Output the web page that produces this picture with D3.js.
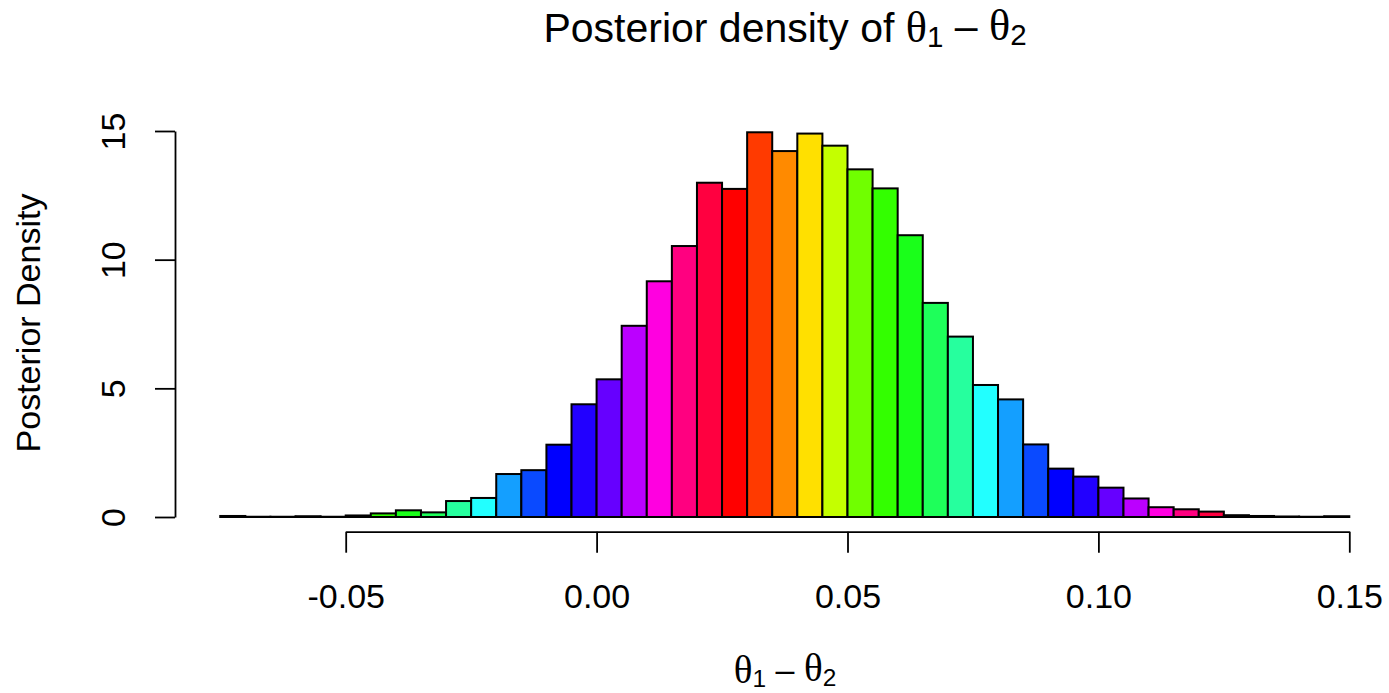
<!DOCTYPE html>
<html>
<head>
<meta charset="utf-8">
<script src="https://cdn.jsdelivr.net/npm/d3@7"></script>
<style>
  body { margin: 0; background: #fff; }
  svg { display: block; }
  text { font-family: "Liberation Sans", Arial, Helvetica, sans-serif; fill: #000; }
</style>
</head>
<body>
<div id="chart"></div>
<script>
// Histogram bins (left edges), width 0.005
const binStart = -0.075;
const binWidth = 0.005;
// Posterior density per bin
const density = [
  0.04, 0.01, 0.01, 0.03, 0.01, 0.06, 0.14, 0.26, 0.18, 0.62,
  0.74, 1.67, 1.82, 2.81, 4.38, 5.35, 7.43, 9.16, 10.53, 12.99,
  12.75, 14.95, 14.22, 14.90, 14.43, 13.51, 12.77, 10.95, 8.32, 7.01,
  5.13, 4.57, 2.82, 1.88, 1.57, 1.14, 0.72, 0.38, 0.30, 0.21,
  0.07, 0.04, 0.02, 0.01, 0.03
];
// 20-colour rainbow, recycled across the bins
const palette = [
  "#FF0000", "#FF3A00", "#FF8A00", "#FFE000", "#C4FF00",
  "#70FF00", "#33FF00", "#1AFF1A", "#1EFF5A", "#26FF9E",
  "#22FFFF", "#149FFF", "#0A4AFF", "#0000FF", "#2200FF",
  "#6600FF", "#BB00FF", "#FF00E0", "#FF0080", "#FF0040"
];
const xTicks = [-0.05, 0, 0.05, 0.10, 0.15];
const xTickLabels = ["-0.05", "0.00", "0.05", "0.10", "0.15"];
const yTicks = [0, 5, 10, 15];

const width = 1389;
const height = 693;

const svg = d3.select("#chart")
  .append("svg")
  .attr("width", width)
  .attr("height", height);

// Scales
const x = d3.scaleLinear().domain([-0.05, 0.15]).range([345.7, 1349.3]);
const y = d3.scaleLinear().domain([0, 15]).range([517, 131]);

// Bars
const bins = density.map((v, i) => ({
  lo: binStart + i * binWidth,
  hi: binStart + (i + 1) * binWidth,
  value: v,
  color: palette[i % palette.length]
}));

svg.append("g")
  .selectAll("rect")
  .data(bins)
  .join("rect")
  .attr("x", d => x(d.lo))
  .attr("y", d => y(d.value))
  .attr("width", d => x(d.hi) - x(d.lo))
  .attr("height", d => y(0) - y(d.value))
  .attr("fill", d => d.color)
  .attr("stroke", "#000")
  .attr("stroke-width", 2);

// X axis
const xAxis = svg.append("g")
  .attr("transform", "translate(0,531.7)")
  .call(d3.axisBottom(x)
    .tickValues(xTicks)
    .tickFormat((d, i) => xTickLabels[i])
    .tickSize(21)
    .tickSizeOuter(0)
    .tickPadding(31));
xAxis.select(".domain").attr("stroke-width", 1.8);
xAxis.selectAll(".tick line").attr("stroke-width", 1.8);
xAxis.selectAll("text")
  .style("font-family", "'Liberation Sans', Arial, sans-serif")
  .style("font-size", "34px");

// Y axis
const yAxis = svg.append("g")
  .attr("transform", "translate(175,0)")
  .call(d3.axisLeft(y)
    .tickValues(yTicks)
    .tickSize(20)
    .tickSizeOuter(0));
yAxis.select(".domain").attr("stroke-width", 1.8);
yAxis.selectAll(".tick line").attr("stroke-width", 1.8);
yAxis.selectAll("text")
  .attr("transform", "rotate(-90)")
  .attr("x", 0)
  .attr("y", -50)
  .attr("dy", 0)
  .attr("text-anchor", "middle")
  .style("font-family", "'Liberation Sans', Arial, sans-serif")
  .style("font-size", "34px");

// theta_1 - theta_2 as tspans
function thetaDiff(sel, thetaSize) {
  const serif = "'Liberation Serif', 'DejaVu Serif', serif";
  sel.append("tspan").style("font-family", serif).style("font-size", thetaSize).text("θ");
  sel.append("tspan").attr("dy", "0.18em").style("font-size", "72%").text("1");
  sel.append("tspan").attr("dy", "-0.18em").text(" – ");
  sel.append("tspan").style("font-family", serif).style("font-size", thetaSize).text("θ");
  sel.append("tspan").attr("dy", "0.18em").style("font-size", "72%").text("2");
}

// Title
const title = svg.append("text")
  .attr("x", 785)
  .attr("y", 42)
  .attr("text-anchor", "middle")
  .style("font-size", "41px");
title.append("tspan").text("Posterior density of ");
thetaDiff(title, "108%");

// X label
const xlab = svg.append("text")
  .attr("x", 785)
  .attr("y", 683)
  .attr("text-anchor", "middle")
  .style("font-size", "34px");
thetaDiff(xlab, "115%");

// Y label
svg.append("text")
  .attr("transform", "translate(40,323) rotate(-90)")
  .attr("text-anchor", "middle")
  .style("font-size", "34px")
  .text("Posterior Density");
</script>
</body>
</html>
